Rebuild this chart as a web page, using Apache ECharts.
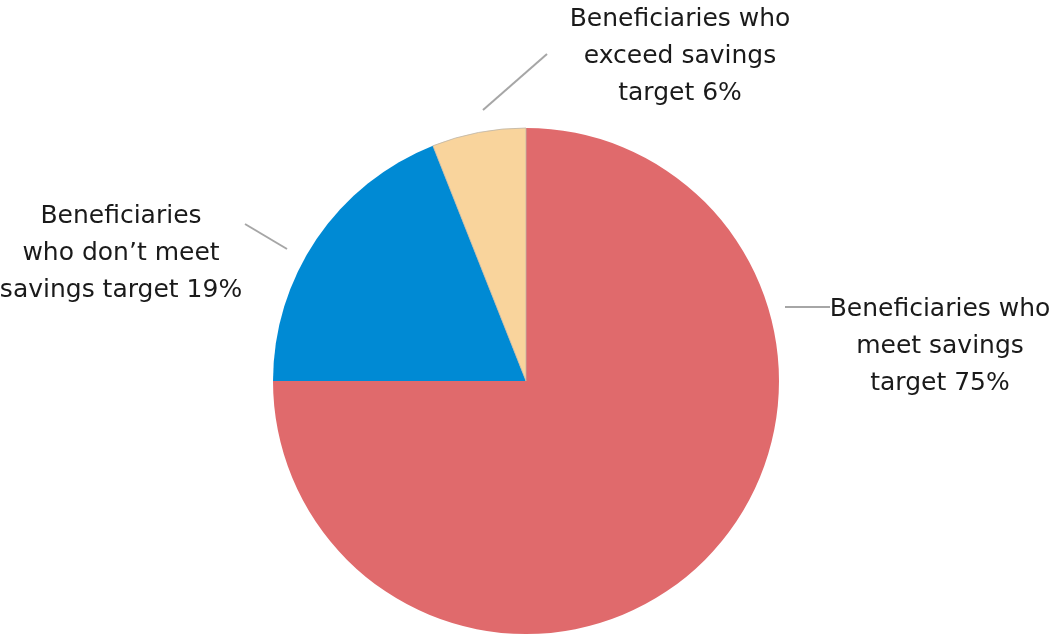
<!DOCTYPE html>
<html>
<head>
<meta charset="utf-8">
<style>
  html, body { margin: 0; padding: 0; background: #ffffff; }
  #chart { width: 1052px; height: 635px; }
</style>
<script src="https://cdn.jsdelivr.net/npm/echarts@6/dist/echarts.min.js"></script>
</head>
<body>
<div id="chart"></div>
<script>
// Share of beneficiaries by savings outcome
const categories = [
  'Beneficiaries who\nmeet savings\ntarget',
  'Beneficiaries\nwho don\u2019t meet\nsavings target',
  'Beneficiaries who\nexceed savings\ntarget'
];
const shares = [75, 19, 6];
const sliceColors = ['#E06A6C', '#008AD4', '#F9D49C'];

// Label placement (text block centre) and leader line segments, in pixels
const labelSpots = [
  { x: 940, y: 346, line: [[785, 307], [830, 307]] },
  { x: 121, y: 253, line: [[287, 249], [245, 224]] },
  { x: 680, y: 56,  line: [[483, 110], [547, 54]] }
];

const chart = echarts.init(document.getElementById('chart'), null, { renderer: 'canvas' });

const pieData = categories.map((name, i) => ({
  name: name,
  value: shares[i],
  itemStyle: {
    color: sliceColors[i],
    borderColor: i === 2 ? '#bdb5a8' : sliceColors[i],
    borderWidth: i === 2 ? 0.8 : 0
  }
}));

chart.setOption({
  backgroundColor: '#ffffff',
  animation: false,
  series: [{
    type: 'pie',
    center: [526, 381],
    radius: 253,
    startAngle: 90,
    clockwise: true,
    avoidLabelOverlap: false,
    data: pieData,
    label: {
      show: true,
      position: 'outside',
      formatter: p => p.name + ' ' + p.value + '%',
      fontFamily: 'DejaVu Sans',
      fontSize: 25,
      lineHeight: 37,
      color: '#1a1a1a',
      align: 'center'
    },
    labelLine: {
      show: true,
      length: 10,
      length2: 10,
      smooth: false,
      lineStyle: { color: '#a6a6a6', width: 2 }
    },
    labelLayout: function (params) {
      const spot = labelSpots[params.dataIndex];
      return {
        x: spot.x,
        y: spot.y,
        align: 'center',
        verticalAlign: 'middle',
        labelLinePoints: spot.line
      };
    },
    emphasis: { disabled: true }
  }]
});
</script>
</body>
</html>
